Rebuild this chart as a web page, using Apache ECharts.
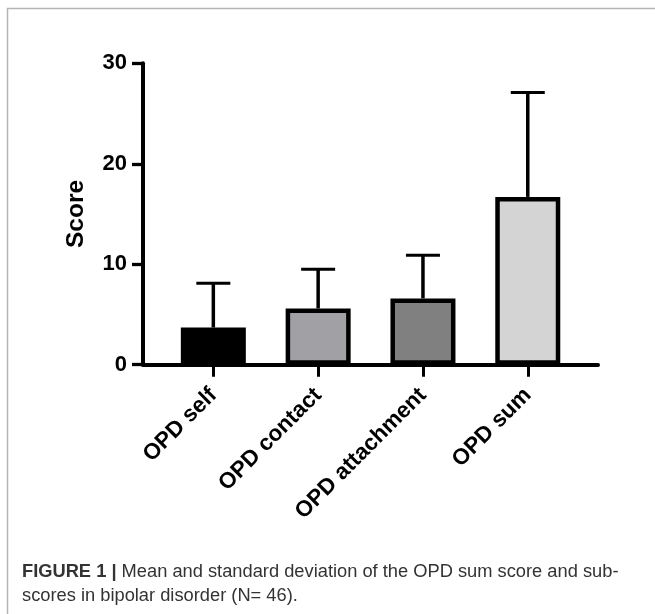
<!DOCTYPE html>
<html><head><meta charset="utf-8">
<script src="https://cdn.jsdelivr.net/npm/echarts@6/dist/echarts.min.js"></script>
<style>html,body{margin:0;padding:0;background:#fff}#c{width:655px;height:614px}</style>
</head><body><div id="c"></div><script>
const categories = ['OPD self', 'OPD contact', 'OPD attachment', 'OPD sum'];
const means = [3.7, 5.6, 6.6, 16.7];
const sds = [4.4, 3.9, 4.3, 10.4];
const barColors = ['#000000', '#a1a1a5', '#808080', '#d4d4d4'];
const yTicks = [0, 10, 20, 30];
const captionBold = 'FIGURE 1 |';
const captionLine1 = 'Mean and standard deviation of the OPD sum score and sub-';
const captionLine2 = 'scores in bipolar disorder (N= 46).';

const chart = echarts.init(document.getElementById('c'), null, {renderer: 'canvas'});
const idx = categories.map((_, i) => i);
const FONT = 'Liberation Sans';

const option = {
  animation: false,
  backgroundColor: '#fff',
  title: {
    left: 22, top: 560, padding: 0,
    text: '{b|' + captionBold + '} ' + captionLine1 + '\n' + captionLine2,
    textStyle: {
      fontFamily: FONT, fontSize: 18.3, fontWeight: 'normal', color: '#333', lineHeight: 24,
      rich: { b: { fontFamily: FONT, fontSize: 18.3, fontWeight: 'bold', color: '#333', lineHeight: 24 } }
    }
  },
  graphic: [{
    type: 'polyline', silent: true,
    shape: { points: [[7.5, 614], [7.5, 8.5], [655, 8.5]] },
    style: { stroke: '#b4b4b4', lineWidth: 1.5, fill: null }
  }],
  grid: { left: 143, right: 57, top: 63.3, bottom: 249.3 },
  xAxis: {
    type: 'value', min: -0.671, max: 3.67,
    splitLine: { show: false },
    axisLine: { show: true, onZero: true, lineStyle: { color: '#000', width: 4 } },
    axisTick: { show: true, customValues: idx, length: 12, lineStyle: { color: '#000', width: 3 } },
    axisLabel: {
      customValues: idx, rotate: 45, margin: 27,
      formatter: v => categories[Math.round(v)] || '',
      fontFamily: FONT, fontWeight: 'bold', fontSize: 22.5, color: '#000'
    }
  },
  yAxis: {
    type: 'value', min: yTicks[0], max: yTicks[yTicks.length - 1], interval: 10,
    splitLine: { show: false },
    axisLine: { show: true, onZero: false, lineStyle: { color: '#000', width: 4 } },
    axisTick: { show: true, length: 11, lineStyle: { color: '#000', width: 3.3 } },
    axisLabel: { margin: 16, fontFamily: FONT, fontWeight: 'bold', fontSize: 22, color: '#000' },
    name: 'Score', nameLocation: 'middle', nameRotate: 90, nameGap: 54,
    nameTextStyle: { fontFamily: FONT, fontWeight: 'bold', fontSize: 24.5, color: '#000' }
  },
  series: [
    {
      type: 'bar', barWidth: 65,
      data: means.map((m, i) => ({ value: [i, m], itemStyle: { color: barColors[i] } })),
      itemStyle: { borderColor: '#000', borderWidth: 4.5 },
      z: 2
    },
    {
      type: 'custom', z: 3,
      data: means.map((m, i) => [i, m, m + sds[i]]),
      renderItem: function (params, api) {
        const x = api.value(0), lo = api.value(1), hi = api.value(2);
        const p0 = api.coord([x, lo]), p1 = api.coord([x, hi]);
        const hw = 17;
        return {
          type: 'group', children: [
            { type: 'line', shape: { x1: p0[0], y1: p0[1], x2: p1[0], y2: p1[1] }, style: { stroke: '#000', lineWidth: 3.5 } },
            { type: 'line', shape: { x1: p1[0] - hw, y1: p1[1], x2: p1[0] + hw, y2: p1[1] }, style: { stroke: '#000', lineWidth: 3 } }
          ]
        };
      }
    }
  ]
};
chart.setOption(option);
</script></body></html>
